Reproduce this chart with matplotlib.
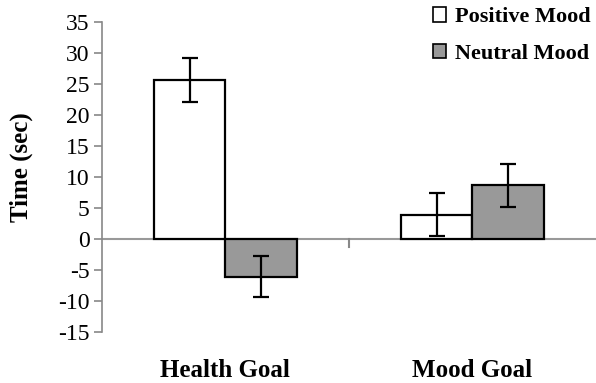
import numpy as np
import matplotlib
matplotlib.use("Agg")
import matplotlib.pyplot as plt
from matplotlib.patches import Patch

plt.rcParams['font.family'] = ['Liberation Serif', 'DejaVu Serif']

# Mean time and error per goal condition
goals = ["Health Goal", "Mood Goal"]
positive = [25.6, 3.9]
positive_err = [3.55, 3.4]
neutral = [-6.1, 8.6]
neutral_err = [3.3, 3.45]
yticks = [-15, -10, -5, 0, 5, 10, 15, 20, 25, 30, 35]

fig = plt.figure(figsize=(5.96, 3.83), dpi=100)
ax = fig.add_axes([0.171, 0.134, 0.829, 0.809])

x = np.arange(len(goals))
w = 0.29
err_kw = dict(ecolor="black", elinewidth=1.6, capsize=6, capthick=1.6)
ax.bar(x - w / 2, positive, w, yerr=positive_err, color="white",
       edgecolor="black", linewidth=1.6, error_kw=err_kw, zorder=3)
ax.bar(x + w / 2, neutral, w, yerr=neutral_err, color="#999999",
       edgecolor="black", linewidth=1.6, error_kw=err_kw, zorder=3)

ax.axhline(0, color="#999999", linewidth=1.5, zorder=2)
# category divider tick below the zero line
ax.plot([0.5, 0.5], [0, -1.4], color="#888888", linewidth=1.5, zorder=2)

ax.set_xlim(-0.5, 1.5)
ax.set_ylim(-15, 35)
ax.set_yticks(yticks)
ax.set_yticklabels([str(t) for t in yticks], fontsize=17)
ax.set_xticks([])
for s in ["top", "right", "bottom"]:
    ax.spines[s].set_visible(False)
ax.spines["left"].set_color("#888888")
ax.spines["left"].set_linewidth(1.2)
ax.tick_params(axis="y", length=6, width=1.2, color="#888888", pad=3)

ax.set_ylabel("Time (sec)", fontsize=18, fontweight="bold")
ax.yaxis.set_label_coords(-0.14, 0.53)

for xi, g in zip(x, goals):
    ax.text(xi, -21.2, g, ha="center", va="center", fontsize=18,
            fontweight="bold")

handles = [Patch(facecolor="white", edgecolor="black", linewidth=1.2),
           Patch(facecolor="#999999", edgecolor="black", linewidth=1.2)]
fig.legend(handles, ["Positive Mood", "Neutral Mood"], loc="upper right",
           bbox_to_anchor=(1.025, 1.033), frameon=False, handlelength=0.6,
           handleheight=0.6, handletextpad=0.4, labelspacing=0.75,
           prop={"size": 16, "weight": "bold"})

fig.savefig("out.png", dpi=100)
